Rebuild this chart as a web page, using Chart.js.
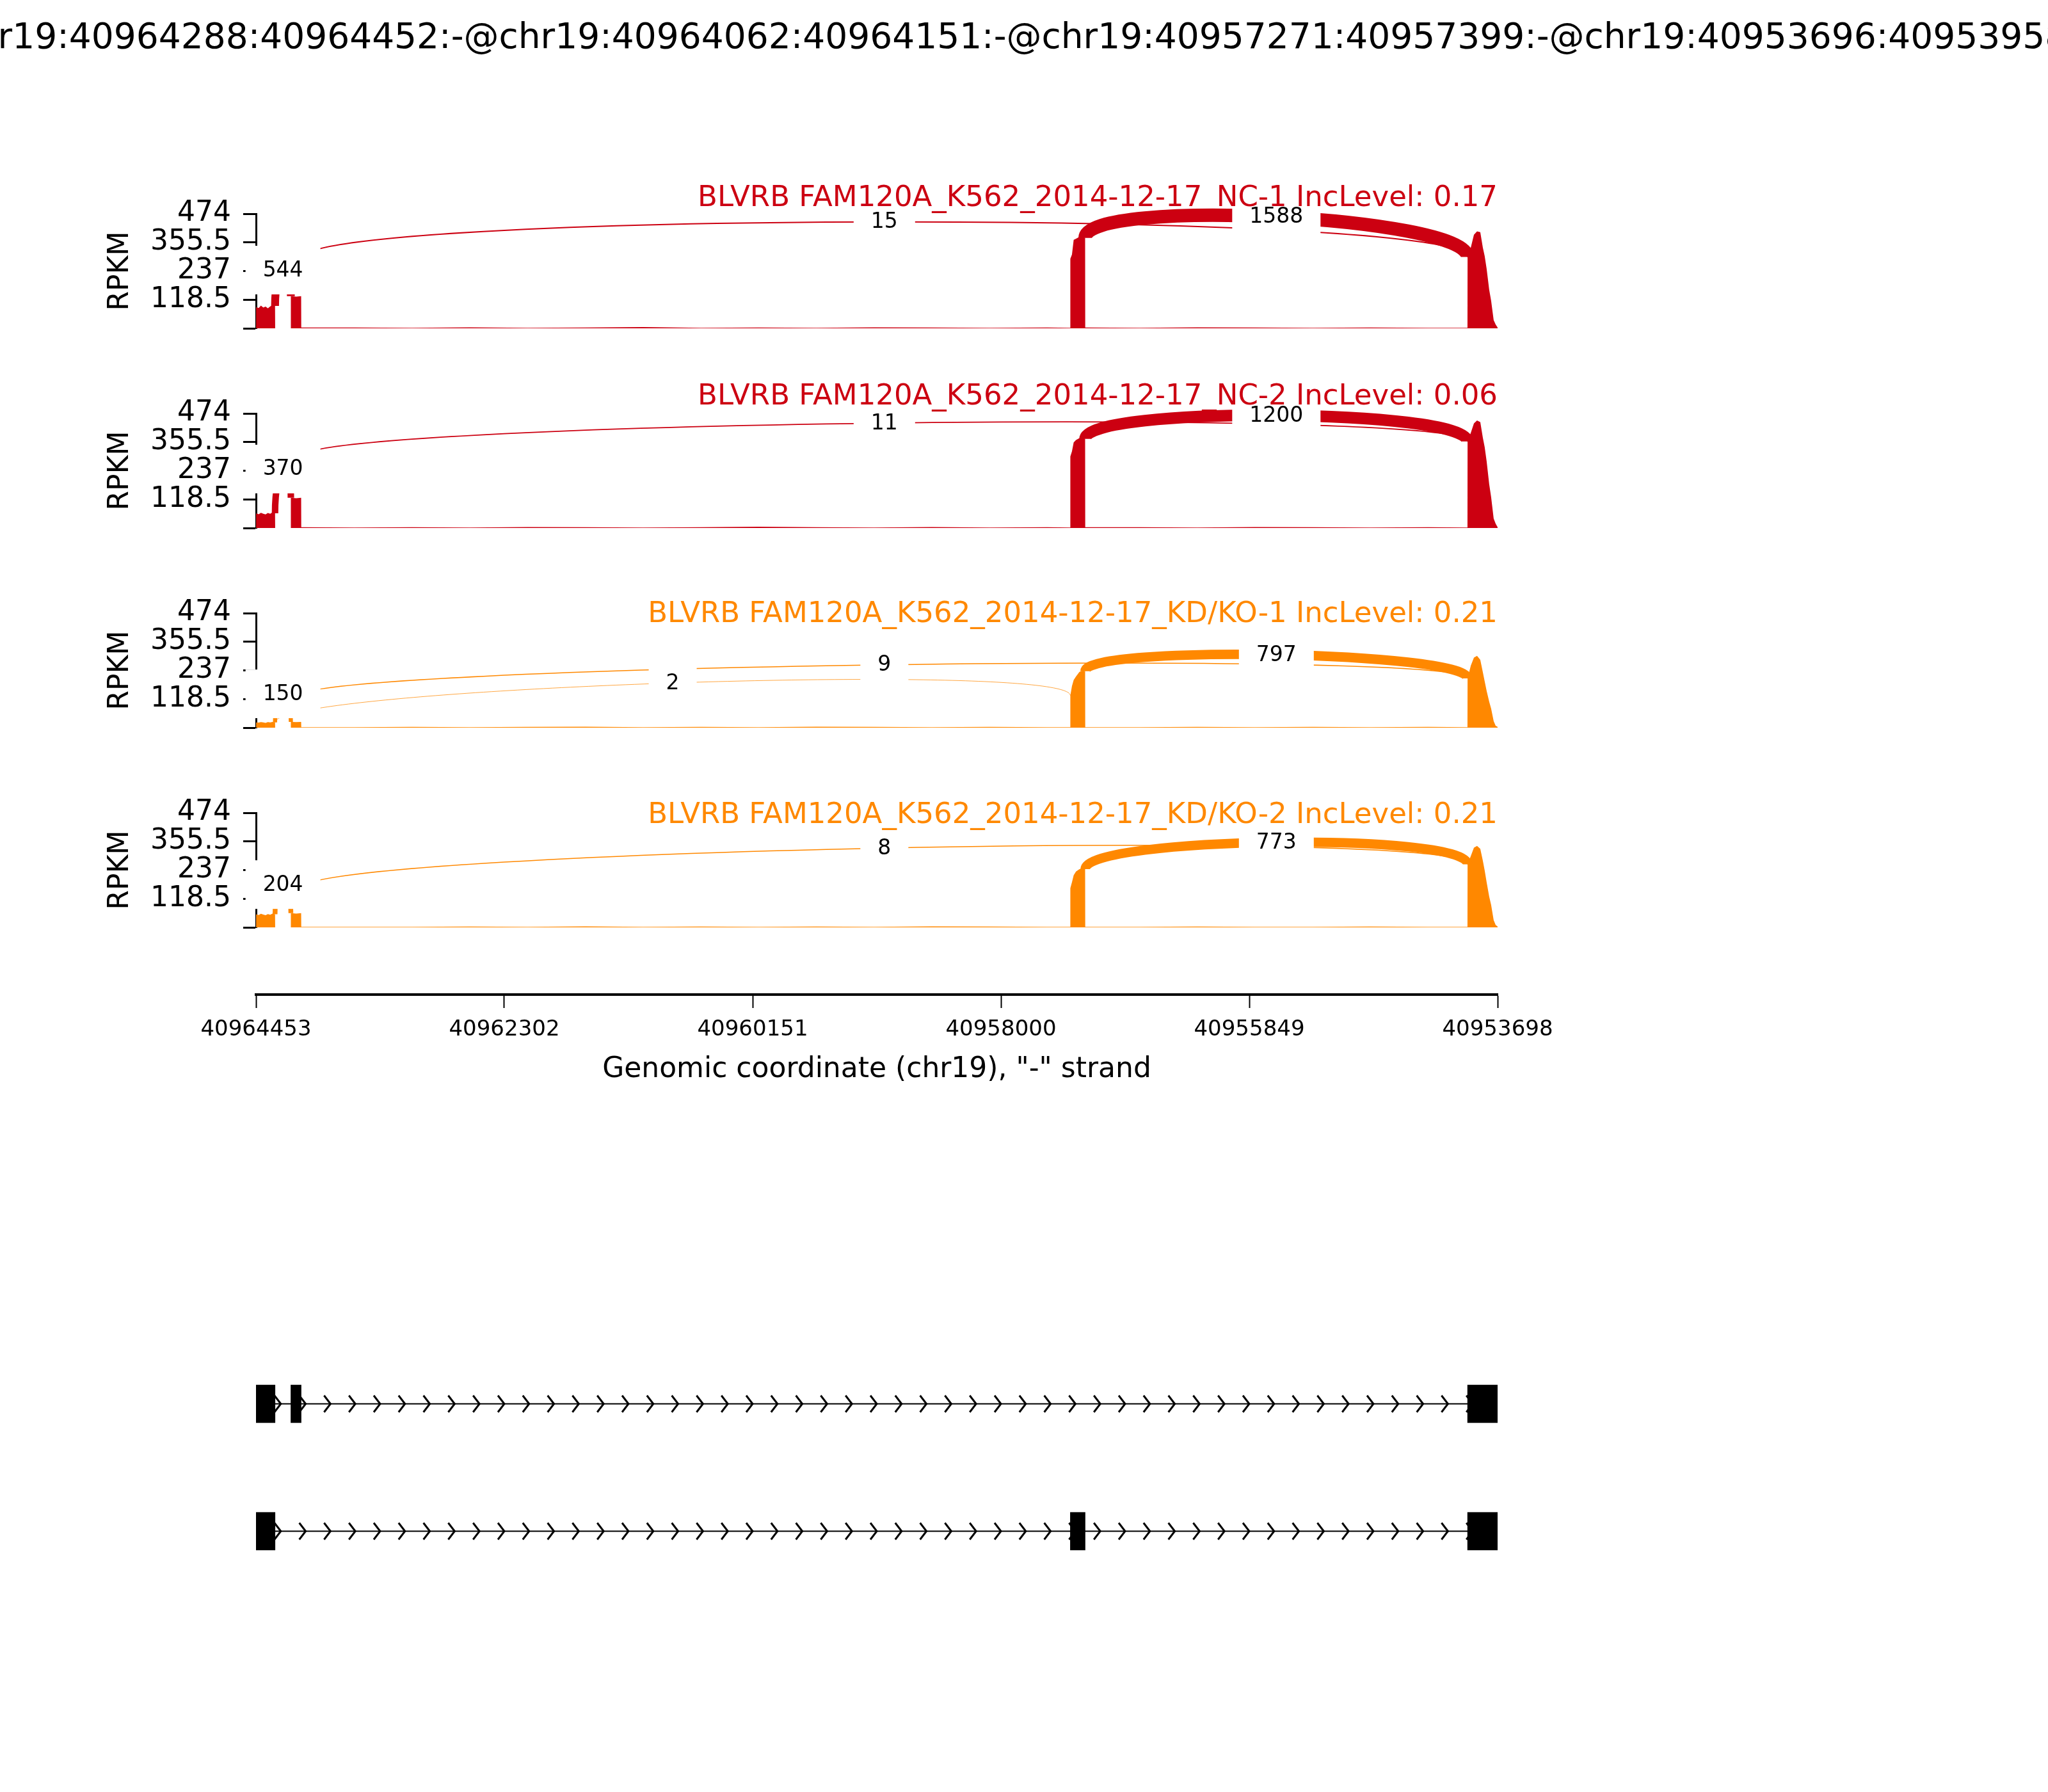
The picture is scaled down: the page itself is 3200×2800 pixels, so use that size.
<!DOCTYPE html>
<html>
<head>
<meta charset="utf-8">
<script src="https://cdn.jsdelivr.net/npm/chart.js@4.4.1/dist/chart.umd.min.js"></script>
<style>
  html, body { margin: 0; padding: 0; background: #fff; }
  #wrap { position: relative; width: 3200px; height: 2800px; overflow: hidden; background: #fff; }
  canvas { position: absolute; left: 0; }
</style>
</head>
<body>
<div id="wrap"></div>
<script>
// ---- data ----
const eventTitle = 'chr19:40964288:40964452:-@chr19:40964062:40964151:-@chr19:40957271:40957399:-@chr19:40953696:40953958:-';
const xTicks = [40964453, 40962302, 40960151, 40958000, 40955849, 40953698];
const yTicks = [0, 118.5, 237, 355.5, 474];
const sampleNames = [
  'BLVRB FAM120A_K562_2014-12-17_NC-1',
  'BLVRB FAM120A_K562_2014-12-17_NC-2',
  'BLVRB FAM120A_K562_2014-12-17_KD/KO-1',
  'BLVRB FAM120A_K562_2014-12-17_KD/KO-2'
];
const incLevels = [0.17, 0.06, 0.21, 0.21];

// exons: A, B, C, D
const exonStarts = [40964288, 40964062, 40957271, 40953696];
const exonEnds = [40964452, 40964151, 40957399, 40953958];
const isoformNames = ['isoform1', 'isoform2'];
const isoform1 = [0, 1, 3];
const isoform2 = [0, 2, 3];

// coverage (RPKM) at genomic positions
const covPos = [
  40964453, 40964452, 40964430, 40964410, 40964390, 40964370, 40964350, 40964330, 40964310, 40964288, 40964287,
  40964152, 40964151, 40964105, 40964062, 40964061,
  40963600, 40963100, 40962600, 40962100, 40961600, 40961100, 40960600, 40960100, 40959600, 40959100, 40958600, 40958100, 40957600, 40957400,
  40957399, 40957385, 40957370, 40957350, 40957320, 40957290, 40957271, 40957270,
  40956800, 40956300, 40955800, 40955300, 40954800, 40954300, 40953959,
  40953958, 40953930, 40953903, 40953876, 40953848, 40953826, 40953810, 40953793, 40953771, 40953754, 40953732, 40953715, 40953698
];
const covNC1 = [
  0, 88, 84, 94, 86, 90, 83, 91, 96, 93, 0,
  0, 133, 131, 133, 3,
  3, 2, 4, 2, 3, 5, 2, 3, 2, 4, 3, 2, 3, 2,
  288, 305, 366, 371, 379, 379, 374, 3,
  2, 4, 3, 2, 3, 2, 2,
  295, 334, 387, 401, 398, 334, 299, 246, 160, 114, 34, 16, 3
];
const covNC2 = [
  0, 61, 57, 63, 59, 56, 62, 59, 65, 61, 0,
  0, 125, 123, 125, 3,
  2, 3, 2, 4, 3, 2, 3, 5, 3, 2, 4, 2, 3, 2,
  296, 317, 354, 364, 372, 374, 369, 3,
  3, 2, 4, 3, 2, 3, 2,
  358, 394, 433, 445, 438, 374, 335, 276, 182, 128, 39, 18, 3
];
const covKD1 = [
  0, 22, 21, 23, 22, 20, 23, 22, 24, 22, 0,
  0, 24, 23, 24, 2,
  2, 3, 2, 3, 4, 2, 3, 2, 4, 3, 2, 3, 2, 2,
  133, 172, 197, 212, 231, 236, 234, 2,
  2, 3, 2, 3, 2, 3, 2,
  204, 257, 290, 297, 281, 230, 192, 152, 108, 79, 27, 8, 3
];
const covKD2 = [
  0, 54, 51, 56, 53, 50, 55, 52, 57, 54, 0,
  0, 59, 57, 59, 2,
  2, 2, 3, 2, 4, 2, 3, 2, 3, 2, 4, 3, 2, 2,
  162, 187, 216, 231, 241, 244, 241, 2,
  2, 3, 2, 2, 3, 2, 2,
  261, 295, 330, 337, 325, 276, 236, 187, 128, 93, 30, 10, 3
];

// junctions: A->B, B->D, A->C, C->D
const jxnFrom = [40964288, 40964062, 40964288, 40957271];
const jxnTo = [40964151, 40953958, 40957399, 40953958];
// position whose coverage the arc leaves from (the B->D arcs leave at the exon C start level in the picture)
const jxnFromLevel = [40964288, 40957399, 40964288, 40957271];
const jxnNC1 = [544, 15, null, 1588];
const jxnNC2 = [370, 11, null, 1200];
const jxnKD1 = [150, 9, 2, 797];
const jxnKD2 = [204, 8, null, 773];
// arc top (RPKM), where the count label sits
const peakNC1 = [241, 440, null, 461];
const peakNC2 = [244, 434, null, 466];
const peakKD1 = [140, 260, 185, 302];
const peakKD2 = [177, 328, null, 352];

// ---- layout / style ----
const X_MIN = 40953698, X_MAX = 40964453;
const PLOT_L = 400, PLOT_R = 2340;
const panelTops = [334, 646, 958, 1270];
const PANEL_H = 179;
const titleShift = [-12, -14, 14, 16];
const panelColors = ['#CC0011', '#CC0011', '#FF8800', '#FF8800'];
const FONT = '"DejaVu Sans", sans-serif';

Chart.defaults.font.family = FONT;
Chart.defaults.color = '#000';

const samples = [
  { cov: covNC1, counts: jxnNC1, peaks: peakNC1 },
  { cov: covNC2, counts: jxnNC2, peaks: peakNC2 },
  { cov: covKD1, counts: jxnKD1, peaks: peakKD1 },
  { cov: covKD2, counts: jxnKD2, peaks: peakKD2 }
];

const wrap = document.getElementById('wrap');
function addCanvas(top, height) {
  const c = document.createElement('canvas');
  c.width = 3200;
  c.height = height;
  c.style.top = top + 'px';
  c.style.width = '3200px';
  c.style.height = height + 'px';
  wrap.appendChild(c);
  return c;
}

function covAt(values, pos) {
  return values[covPos.indexOf(pos)];
}

// arcs, count labels and panel title
function makeSashimi(i) {
  const s = samples[i];
  const color = panelColors[i];
  function arcs(chart) {
    const { x, y } = chart.scales;
    const out = [];
    s.counts.forEach((n, k) => {
      if (n == null) return;
      const x1 = x.getPixelForValue(jxnFrom[k]);
      const x2 = x.getPixelForValue(jxnTo[k]);
      const l = covAt(s.cov, jxnFromLevel[k]);
      const r = covAt(s.cov, jxnTo[k]);
      const h = (s.peaks[k] - (l + r) / 2) / 0.75;
      out.push({ n, x1, x2, l, r, h, xm: (x1 + x2) / 2, ym: y.getPixelForValue(s.peaks[k]) });
    });
    return out;
  }
  return {
    id: 'sashimi',
    afterDatasetsDraw(chart) {
      const { ctx } = chart;
      const y = chart.scales.y;
      ctx.save();
      ctx.strokeStyle = color;
      ctx.lineCap = 'butt';
      arcs(chart).forEach(a => {
        ctx.lineWidth = 0.527 * Math.sqrt(a.n);
        ctx.beginPath();
        ctx.moveTo(a.x1, y.getPixelForValue(a.l));
        ctx.bezierCurveTo(a.x1, y.getPixelForValue(a.l + a.h), a.x2, y.getPixelForValue(a.r + a.h), a.x2, y.getPixelForValue(a.r));
        ctx.stroke();
      });
      ctx.restore();
    },
    afterDraw(chart) {
      const { ctx, chartArea } = chart;
      ctx.save();
      ctx.font = '33px ' + FONT;
      ctx.textAlign = 'center';
      ctx.textBaseline = 'middle';
      arcs(chart).forEach(a => {
        const txt = String(a.n);
        const tw = ctx.measureText(txt).width;
        ctx.fillStyle = '#fff';
        ctx.fillRect(a.xm - tw / 2 - 27, a.ym - 38, tw + 54, 76);
        ctx.fillStyle = '#000';
        ctx.fillText(txt, a.xm, a.ym + 1);
      });
      // sample title
      ctx.font = '45px ' + FONT;
      ctx.textAlign = 'right';
      ctx.textBaseline = 'alphabetic';
      ctx.fillStyle = color;
      ctx.fillText(sampleNames[i] + ' IncLevel: ' + incLevels[i].toFixed(2), chartArea.right, chartArea.top + titleShift[i]);
      if (i === 0) {
        ctx.font = '55px ' + FONT;
        ctx.textAlign = 'center';
        ctx.textBaseline = 'middle';
        ctx.fillStyle = '#000';
        ctx.fillText(eventTitle, 1600, 61);
      }
      ctx.restore();
    }
  };
}

samples.forEach((s, i) => {
  const canvasTop = i === 0 ? 0 : panelTops[i] - 110;
  const padTop = panelTops[i] - canvasTop;
  const padBottom = 60;
  const height = padTop + PANEL_H + padBottom;
  const canvas = addCanvas(canvasTop, height);
  new Chart(canvas, {
    type: 'scatter',
    data: {
      datasets: [{
        data: covPos.map((p, k) => ({ x: p, y: s.cov[k] })),
        showLine: true,
        fill: 'origin',
        borderWidth: 0,
        pointRadius: 0,
        tension: 0,
        backgroundColor: panelColors[i],
        borderColor: panelColors[i]
      }]
    },
    options: {
      responsive: false,
      animation: false,
      devicePixelRatio: 1,
      layout: { padding: { left: 158, right: 3200 - PLOT_R, top: padTop, bottom: padBottom } },
      plugins: { legend: { display: false }, tooltip: { enabled: false } },
      scales: {
        x: { type: 'linear', min: X_MIN, max: X_MAX, reverse: true, display: false },
        y: {
          min: 0,
          max: 474,
          afterBuildTicks: sc => { sc.ticks = yTicks.map(v => ({ value: v })); },
          afterFit: sc => { sc.width = PLOT_L - 158; },
          ticks: {
            autoSkip: false,
            font: { size: 44 },
            color: '#000',
            padding: 19,
            callback: v => (v === 0 ? '' : String(v))
          },
          grid: { drawOnChartArea: false, drawTicks: true, tickLength: 20, tickColor: '#000', tickWidth: 3 },
          border: { display: true, color: '#000', width: 3 },
          title: { display: true, text: 'RPKM', font: { size: 44 }, color: '#000', padding: { top: 4, bottom: 4 } }
        }
      }
    },
    plugins: [makeSashimi(i)]
  });
});

// ---- x axis ----
(function () {
  const canvas = addCanvas(1500, 202);
  new Chart(canvas, {
    type: 'scatter',
    data: { datasets: [] },
    options: {
      responsive: false,
      animation: false,
      devicePixelRatio: 1,
      layout: { padding: { left: PLOT_L, right: 3200 - PLOT_R, top: 20, bottom: 0 } },
      plugins: { legend: { display: false }, tooltip: { enabled: false } },
      scales: {
        x: {
          type: 'linear', min: X_MIN, max: X_MAX, reverse: true, position: 'bottom',
          afterBuildTicks: sc => { sc.ticks = xTicks.map(v => ({ value: v })); },
          afterFit: sc => { sc.height = 148; },
          ticks: { autoSkip: false, maxRotation: 0, font: { size: 34 }, color: '#000', padding: 14, callback: v => String(v) },
          grid: { drawOnChartArea: false, drawTicks: true, tickLength: 21, tickColor: '#000', tickWidth: 2 },
          border: { display: true, color: '#000', width: 4 },
          title: { display: true, text: 'Genomic coordinate (chr19), "-" strand', font: { size: 44 }, color: '#000', padding: { top: 4, bottom: 4 } }
        },
        y: { display: false, min: 0, max: 1 }
      }
    }
  });
})();

// ---- gene models ----
const intronPlugin = {
  id: 'introns',
  beforeDatasetsDraw(chart) {
    const { ctx, chartArea: a, scales: { x, y } } = chart;
    ctx.save();
    ctx.beginPath();
    ctx.rect(a.left, a.top, a.right - a.left, a.bottom - a.top);
    ctx.clip();
    ctx.strokeStyle = '#000';
    isoformNames.forEach((n, i) => {
      const yc = y.getPixelForValue(i);
      ctx.lineWidth = 2;
      ctx.beginPath();
      ctx.moveTo(a.left, yc);
      ctx.lineTo(a.right, yc);
      ctx.stroke();
      ctx.lineWidth = 3;
      for (let k = 0; k < 50; k++) {
        const tip = x.getPixelForValue(X_MAX - k * (X_MAX - X_MIN) / 50);
        ctx.beginPath();
        ctx.moveTo(tip - 10, yc - 13);
        ctx.lineTo(tip, yc);
        ctx.lineTo(tip - 10, yc + 13);
        ctx.stroke();
      }
    });
    ctx.restore();
  }
};

(function () {
  const canvas = addCanvas(2050, 462);
  const isoforms = [isoform1, isoform2];
  new Chart(canvas, {
    type: 'bar',
    data: {
      labels: isoformNames,
      datasets: [0, 1, 2].map(k => ({
        data: isoforms.map(iso => [exonStarts[iso[k]], exonEnds[iso[k]]]),
        backgroundColor: '#000',
        borderWidth: 0,
        barThickness: 59,
        grouped: false
      }))
    },
    options: {
      indexAxis: 'y',
      responsive: false,
      animation: false,
      devicePixelRatio: 1,
      layout: { padding: { left: PLOT_L, right: 3200 - PLOT_R, top: 44, bottom: 20 } },
      plugins: { legend: { display: false }, tooltip: { enabled: false } },
      scales: {
        x: { type: 'linear', min: X_MIN, max: X_MAX, reverse: true, display: false },
        y: { display: false }
      }
    },
    plugins: [intronPlugin]
  });
})();
</script>
</body>
</html>
